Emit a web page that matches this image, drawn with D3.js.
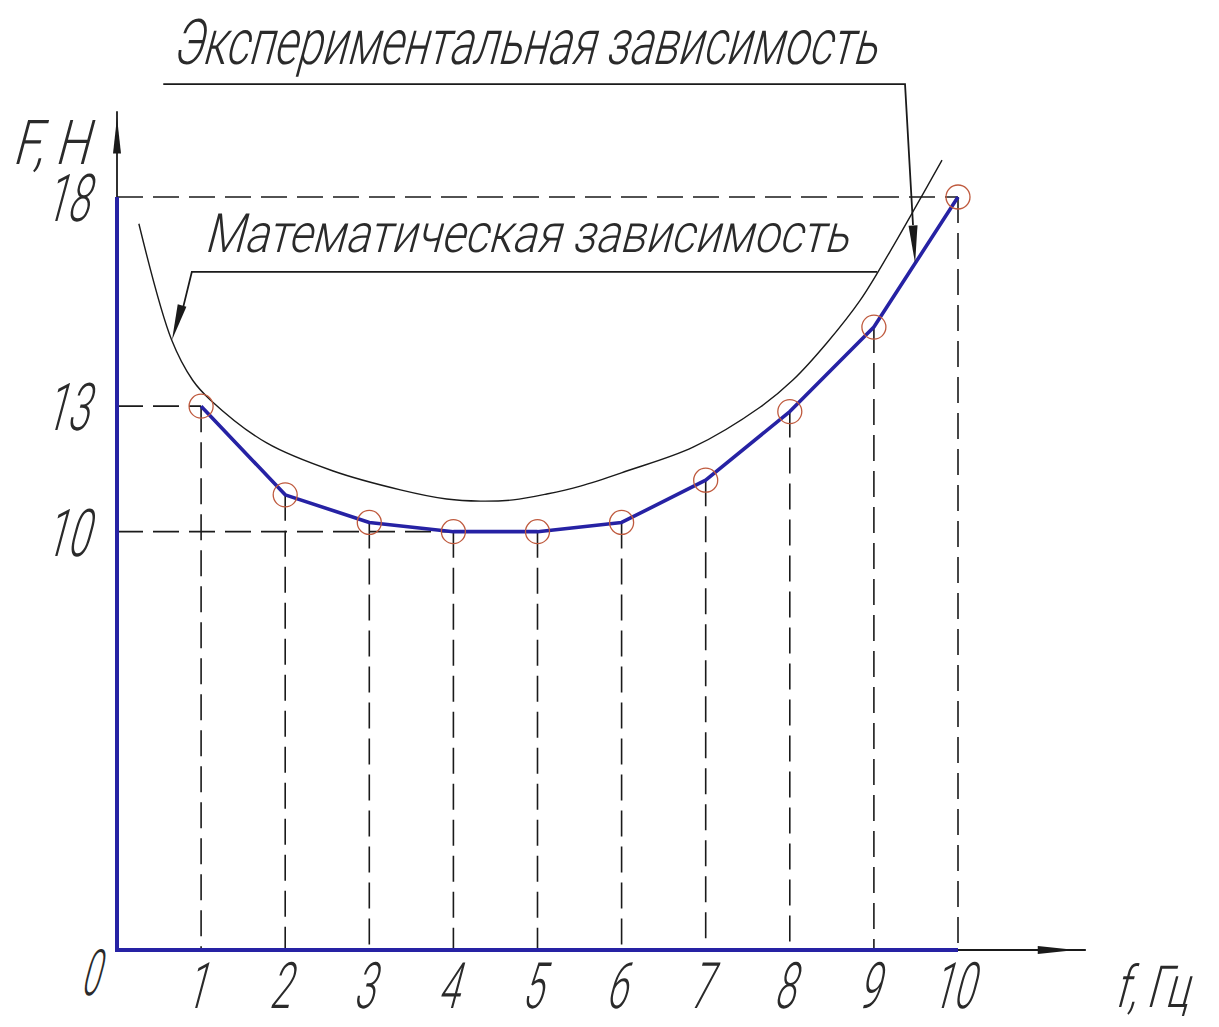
<!DOCTYPE html>
<html>
<head>
<meta charset="utf-8">
<script src="https://cdn.jsdelivr.net/npm/d3@7"></script>
<style>
  html, body { margin: 0; padding: 0; background: #fff; }
  svg { display: block; }
  .lbl { font-family: Roboto, "DejaVu Sans", sans-serif; font-weight: 300; fill: #2a2a2a; }
</style>
</head>
<body>
<svg id="chart" width="1219" height="1027"></svg>
<script>
// Frequency values (Hz) and measured force (N)
const freq = [1, 2, 3, 4, 5, 6, 7, 8, 9, 10];
const forceExp = [13, 10.88, 10.22, 10, 10, 10.22, 11.23, 12.87, 14.89, 18];

// Mathematical (model) dependence, sampled along the curve
const mathFreq  = [0.26, 0.65, 0.90, 1.11, 1.78, 2.57, 3.37, 3.92, 4.32, 4.71, 5.11, 5.51, 6.06, 6.85, 7.65, 8.04, 8.44, 8.84, 9.19, 9.51, 9.81];
const mathForce = [17.36, 14.58, 13.62, 13.15, 12.12, 11.45, 11.00, 10.78, 10.73, 10.76, 10.90, 11.09, 11.45, 12.02, 12.98, 13.63, 14.51, 15.54, 16.69, 17.81, 18.88];

// Axis tick labels
const xTickLabels = ["1", "2", "3", "4", "5", "6", "7", "8", "9", "10"];
const yTicks = [18, 13, 10];
const yTickLabels = ["18", "13", "10"];

const svg = d3.select("#chart");
const x = d3.scaleLinear().domain([0, 10]).range([117, 958]);
const y = d3.scaleLinear().domain([0, 18]).range([950, 197]);

const blue = "#2622a4";
const ink = "#1a1a1a";
const dash = "26,10";

// --- dashed reference lines
const g = svg.append("g");
freq.forEach((f, i) => {
  g.append("line")
    .attr("x1", x(f)).attr("x2", x(f))
    .attr("y1", y(forceExp[i])).attr("y2", y(0))
    .attr("stroke", ink).attr("stroke-width", 1.6)
    .attr("stroke-dasharray", dash);
});
// horizontal guides: level 18 to f=10, 13 to f=1, 10 to f=4
const hGuides = [[18, 10], [13, 1], [10, 4]];
hGuides.forEach(([F, f]) => {
  g.append("line")
    .attr("x1", x(0)).attr("x2", x(f))
    .attr("y1", y(F)).attr("y2", y(F))
    .attr("stroke", ink).attr("stroke-width", 1.6)
    .attr("stroke-dasharray", dash);
});

// --- arrow helpers
function arrowHead(tip, from, len, half) {
  const dx = tip[0] - from[0], dy = tip[1] - from[1];
  const d = Math.hypot(dx, dy);
  const ux = dx / d, uy = dy / d;
  const bx = tip[0] - ux * len, by = tip[1] - uy * len;
  return [[tip[0], tip[1]], [bx - uy * half, by + ux * half], [bx + uy * half, by - ux * half]];
}
function drawArrow(pts) {
  svg.append("polygon")
    .attr("points", pts.map(p => p.join(",")).join(" "))
    .attr("fill", ink);
}

// --- black axis extensions with arrows
svg.append("line")
  .attr("x1", x(0)).attr("x2", x(0))
  .attr("y1", y(18)).attr("y2", y(20.05))
  .attr("stroke", ink).attr("stroke-width", 1.8);
drawArrow(arrowHead([x(0), y(19.9)], [x(0), y(18)], 36, 4));

svg.append("line")
  .attr("x1", x(10)).attr("x2", x(11.52))
  .attr("y1", y(0)).attr("y2", y(0))
  .attr("stroke", ink).attr("stroke-width", 1.8);
drawArrow(arrowHead([x(11.4), y(0)], [x(10), y(0)], 38, 4));

// --- mathematical dependence curve
const mathPts = mathFreq.map((f, i) => [x(f), y(mathForce[i])]);
svg.append("path")
  .attr("d", d3.line().curve(d3.curveCatmullRom.alpha(0.5))(mathPts))
  .attr("fill", "none").attr("stroke", ink).attr("stroke-width", 1.4);

// --- blue axes
svg.append("path")
  .attr("d", d3.line()([[x(0), y(18)], [x(0), y(0)], [x(10), y(0)]]))
  .attr("fill", "none").attr("stroke", blue).attr("stroke-width", 4);

// --- experimental polyline
const expPts = freq.map((f, i) => [x(f), y(forceExp[i])]);
svg.append("path")
  .attr("d", d3.line()(expPts))
  .attr("fill", "none").attr("stroke", blue).attr("stroke-width", 3.6)
  .attr("stroke-linejoin", "round");

// --- point markers
svg.append("g").selectAll("circle").data(freq).join("circle")
  .attr("cx", d => x(d))
  .attr("cy", (d, i) => y(forceExp[i]))
  .attr("r", 12)
  .attr("fill", "none")
  .attr("stroke", "#bf5a3e")
  .attr("stroke-width", 1.3);

// --- leader for the experimental curve (tip on the polyline near f = 9.5)
const tipF = 9.49;
const tipForce = forceExp[8] + (forceExp[9] - forceExp[8]) * (tipF - 9);
const expLeader = [[x(0.55), y(20.7)], [x(9.37), y(20.7)], [x(9.465), y(17.33)]];
svg.append("path")
  .attr("d", d3.line()(expLeader))
  .attr("fill", "none").attr("stroke", ink).attr("stroke-width", 1.8);
drawArrow(arrowHead([x(tipF), y(tipForce)], [x(9.465), y(17.33)], 38, 4.5));

// --- leader for the mathematical curve
const mathLeader = [[x(9.04), y(16.21)], [x(0.89), y(16.21)], [x(0.785), y(15.35)]];
svg.append("path")
  .attr("d", d3.line()(mathLeader))
  .attr("fill", "none").attr("stroke", ink).attr("stroke-width", 1.8);
drawArrow(arrowHead([x(0.654), y(14.58)], [x(0.89), y(16.21)], 36, 4.5));

// --- slanted, condensed drafting-style text
function label(txt, px, py, size, width) {
  const t = svg.append("text")
    .attr("class", "lbl")
    .attr("font-size", size)
    .text(txt);
  const natural = t.node().getComputedTextLength();
  const sx = width && natural ? width / natural : 1;
  t.attr("transform", `translate(${px},${py}) skewX(-15) scale(${sx},1)`);
  return t;
}

label("Экспериментальная зависимость", 172, 64, 63, 704);
label("Математическая зависимость", 204, 252, 54, 644);
label("F, Н", 12, 164, 62, 76);
label("f, Гц", 1114, 1007, 58, 74);
label("0", 80, 995, 64, 18);

yTicks.forEach((t, i) => {
  const w = 44;
  label(yTickLabels[i], 88 - w, y(t) + 24, 66, w);
});

freq.forEach((f, i) => {
  const w = xTickLabels[i].length * 21;
  label(xTickLabels[i], x(f) - w / 2 - 6, 1008, 64, w);
});
</script>
</body>
</html>
